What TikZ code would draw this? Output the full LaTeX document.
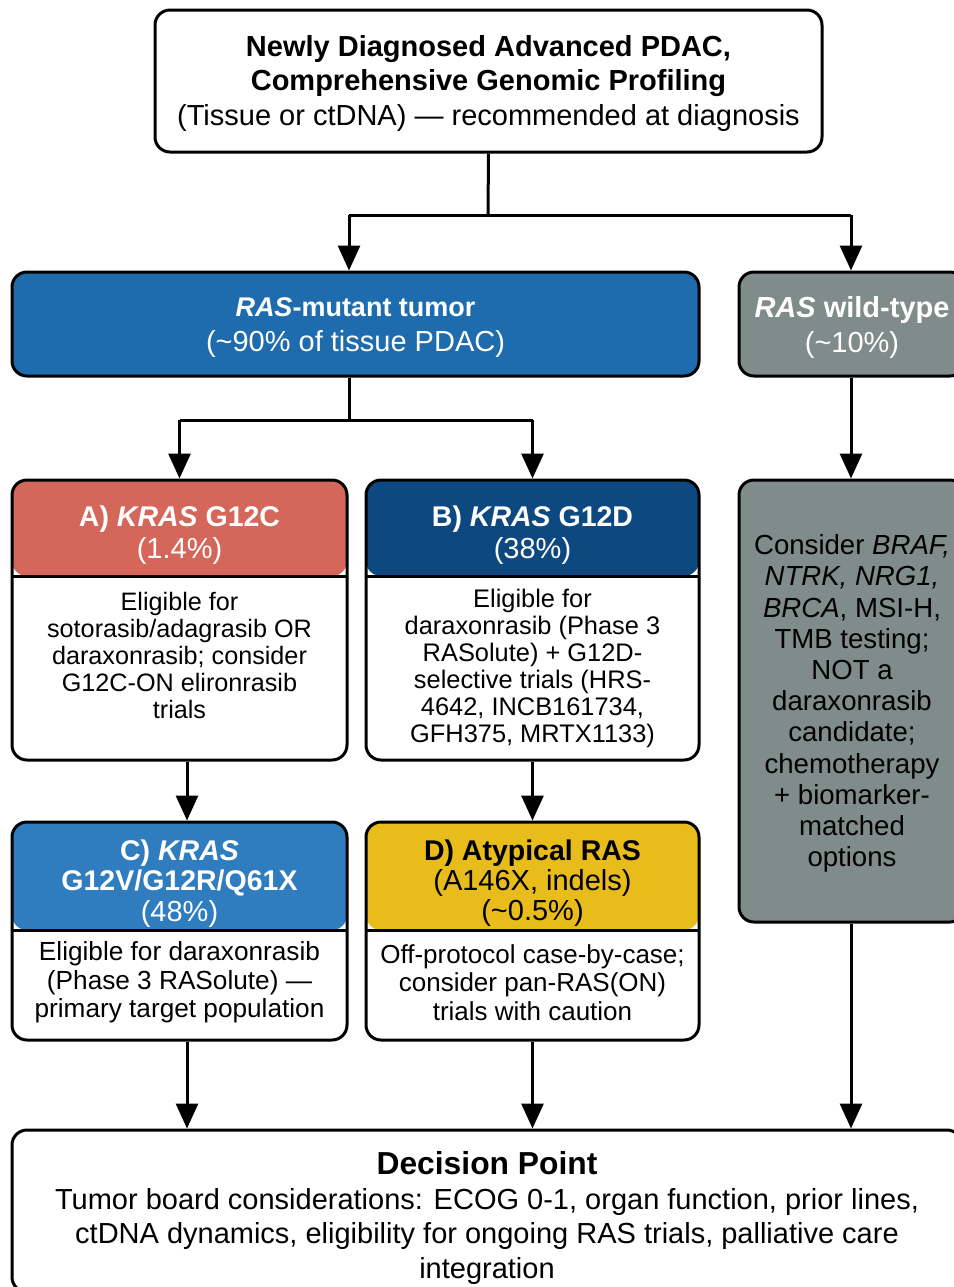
\documentclass[tikz,border=0pt]{standalone}
\usepackage{fontspec}
\setmainfont{Liberation Sans}
\usetikzlibrary{arrows.meta,calc}
\definecolor{rasmut}{HTML}{1E6BAD}
\definecolor{wtgray}{HTML}{7F8C8A}
\definecolor{colA}{HTML}{D4665A}
\definecolor{colB}{HTML}{0E4880}
\definecolor{colC}{HTML}{2F7DBE}
\definecolor{colD}{HTML}{E8BC1A}
\begin{document}
\begin{tikzpicture}[x=0.5pt,y=-0.5pt,
  box/.style={draw=black, line width=1.5pt, rounded corners=7.5pt, inner sep=0pt, align=center},
  hdr/.style 2 args={path picture={
      \fill[#1] (path picture bounding box.north west) rectangle ([yshift=-#2]path picture bounding box.north east);
      \draw[line width=1.5pt] ([yshift=-#2]path picture bounding box.north west) -- ([yshift=-#2]path picture bounding box.north east);}},
  txt/.style={inner sep=0pt, align=center},
  conn/.style={line width=1.5pt},
  arr/.style={conn, -{Triangle[length=12.5pt,width=11pt]}},
]
\useasboundingbox (0,0) rectangle (954,1287);

% top box
\node[box, fill=white, minimum width=333.5pt, minimum height=71pt] (top) at (488.5,81) {};
\node[txt, font=\fontsize{14.5}{17.25}\selectfont] (topt) at (488.5,83)
  {\textbf{Newly Diagnosed Advanced PDAC,}\\\textbf{Comprehensive Genomic Profiling}\\(Tissue or ctDNA) — recommended at diagnosis};

% level 2
\node[box, fill=rasmut, minimum width=343.5pt, minimum height=52pt] (mut) at (355.5,324) {};
\node[txt, text=white, font=\fontsize{14.5}{17.5}\selectfont] (mutt) at (355.5,328)
  {{\fontsize{13.5}{17.5}\selectfont\bfseries\itshape RAS\upshape-mutant tumor}\\(\textasciitilde90\% of tissue PDAC)};
\node[box, fill=wtgray, minimum width=113pt, minimum height=52pt] (wt) at (852,324) {};
\node[txt, text=white, font=\fontsize{14.5}{17.5}\selectfont] (wtt) at (852,327)
  {\textbf{\textit{RAS} wild-type}\\(\textasciitilde10\%)};

% boxes A, B
\node[box, fill=white, minimum width=167.5pt, minimum height=140pt, hdr={colA}{48pt}] (A) at (179.5,620) {};
\node[box, fill=white, minimum width=166.5pt, minimum height=140pt, hdr={colB}{48pt}] (B) at (532.5,620) {};
\node[txt, text=white, font=\fontsize{14.5}{16}\selectfont] (Ah) at (179.5,535)
  {{\fontsize{14.25}{16}\selectfont\bfseries A) \textit{KRAS} G12C}\\(1.4\%)};
\node[txt, text=white, font=\fontsize{14.5}{16}\selectfont] (Bh) at (532.5,535)
  {{\fontsize{14.25}{16}\selectfont\bfseries B) \textit{KRAS} G12D}\\(38\%)};
\node[txt, font=\fontsize{12.6}{13.5}\selectfont] (Ab) at (179.5,655.5)
  {Eligible for\\sotorasib/adagrasib OR\\daraxonrasib; consider\\G12C-ON elironrasib\\trials};
\node[txt, font=\fontsize{12.7}{13.5}\selectfont] (Bb) at (532.5,668.5)
  {Eligible for\\daraxonrasib (Phase 3\\RASolute) + G12D-\\selective trials (HRS-\\4642, INCB161734,\\GFH375, MRTX1133)};

% boxes C, D
\node[box, fill=white, minimum width=167.5pt, minimum height=109pt, hdr={colC}{54pt}] (C) at (179.5,931) {};
\node[box, fill=white, minimum width=166.5pt, minimum height=109pt, hdr={colD}{54pt}] (D) at (532.5,931) {};
\node[txt, text=white, font=\fontsize{14.5}{15.25}\selectfont] (Ch) at (179.5,883.5)
  {{\fontsize{14.25}{15.25}\selectfont\bfseries C) \textit{KRAS}}\\{\fontsize{14.25}{15.25}\selectfont\bfseries G12V/G12R/Q61X}\\(48\%)};
\node[txt, text=black, font=\fontsize{14.5}{15}\selectfont] (Dh) at (532.5,883)
  {{\fontsize{14.25}{15}\selectfont\bfseries D) Atypical RAS}\\(A146X, indels)\\(\textasciitilde0.5\%)};
\node[txt, font=\fontsize{13.1}{14.25}\selectfont] (Cb) at (179.5,982.5)
  {Eligible for daraxonrasib\\(Phase 3 RASolute) —\\primary target population};
\node[txt, font=\fontsize{13}{14.25}\selectfont] (Db) at (532.5,982.5)
  {Off-protocol case-by-case;\\consider pan-RAS(ON)\\trials with caution};

% wild-type body
\node[box, fill=wtgray, minimum width=113pt, minimum height=221pt] (wtb) at (852,701) {};
\node[txt, text=black, font=\fontsize{13.8}{15.6}\selectfont] (wtbt) at (852,703.5)
  {Consider \textit{BRAF,}\\\textit{NTRK, NRG1,}\\\textit{BRCA}, MSI-H,\\TMB testing;\\NOT a\\daraxonrasib\\candidate;\\chemotherapy\\+ biomarker-\\matched\\options};

% decision
\node[box, fill=white, minimum width=475pt, minimum height=81pt] (dec) at (487,1211) {};
\node[txt, font=\fontsize{14.5}{17.25}\selectfont] (dect) at (487,1218)
  {{\fontsize{15.9}{17.25}\selectfont\bfseries Decision Point}\\Tumor board considerations: ECOG 0-1, organ function, prior lines,\\ctDNA dynamics, eligibility for ongoing RAS trials, palliative care\\integration};

% connectors
\coordinate (j0) at (488,215);
\coordinate (jL) at (349,215);
\coordinate (jR) at (851,215);
\draw[conn] (top.south) -- (j0);
\draw[conn] (jL) -- (jR);
\draw[arr] (jL) -- (jL |- mut.north);
\draw[arr] (jR) -- (jR |- wt.north);

\coordinate (k0) at (349,420);
\coordinate (kL) at (179.5,420);
\coordinate (kR) at (532.5,420);
\draw[conn] (k0 |- mut.south) -- (k0);
\draw[conn] (kL) -- (kR);
\draw[arr] (kL) -- (A.north);
\draw[arr] (kR) -- (B.north);

\draw[arr] ([xshift=3.75pt]A.south) -- ([xshift=3.75pt]C.north);
\draw[arr] (B.south) -- (D.north);
\draw[arr] ([xshift=3.75pt]C.south) -- ([xshift=3.75pt]C.south |- dec.north);
\draw[arr] (D.south) -- (D.south |- dec.north);
\draw[arr] (jR |- wtb.south) -- (jR |- dec.north);
\draw[arr] (jR |- wt.south) -- (jR |- wtb.north);
\end{tikzpicture}
\end{document}
